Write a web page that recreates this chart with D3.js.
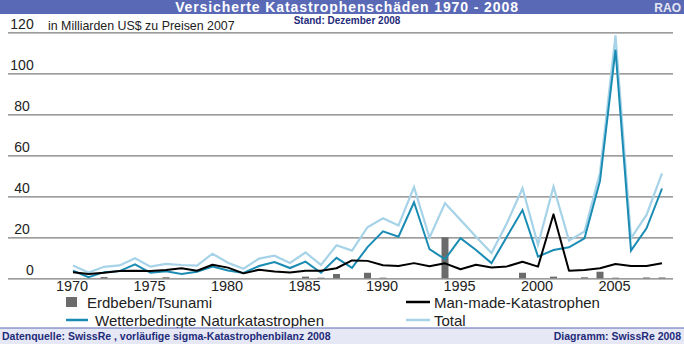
<!DOCTYPE html>
<html>
<head>
<meta charset="utf-8">
<script src="https://cdn.jsdelivr.net/npm/d3@7"></script>
<style>
  html, body { margin: 0; padding: 0; background: #fff; }
  svg { display: block; font-family: "Liberation Sans", Arial, Helvetica, sans-serif; }
</style>
</head>
<body>
<svg id="chart" width="684" height="344"></svg>
<script>
// Versicherte Katastrophenschäden, Mrd. US$ (Preise 2007)
const years = d3.range(1970, 2009);

const total = [
  6.2, 2.8, 5.6, 6.3, 9.8, 5.7, 7.0, 6.5, 6.2, 12.0,
  7.6, 4.7, 9.6, 11.0, 7.5, 12.6, 6.5, 16.1, 13.5, 24.9,
  29.3, 25.8, 44.5, 19.8, 36.6, 28.5, 20.3, 12.3, 27.0, 43.9,
  16.3, 44.7, 18.4, 22.8, 51.5, 118.5, 19.5, 30.9, 51.2
];

const weather = [
  3.7, 0.5, 3.0, 3.5, 6.8, 2.7, 3.4, 2.1, 3.2, 5.7,
  3.8, 2.6, 6.0, 7.9, 5.0, 8.1, 2.7, 10.0, 5.1, 15.2,
  22.9, 20.3, 37.1, 14.2, 9.3, 19.6, 13.8, 7.4, 20.4, 33.3,
  10.6, 13.8, 15.1, 19.5, 47.5, 111.5, 13.5, 24.4, 43.8
];

const manMade = [
  2.9, 2.1, 2.7, 3.6, 3.7, 3.6, 4.0, 4.9, 3.7, 6.6,
  5.2, 2.4, 4.2, 3.3, 2.8, 3.7, 3.7, 4.9, 8.7, 8.5,
  6.4, 6.0, 7.4, 5.9, 7.3, 4.4, 6.6, 5.3, 5.8, 8.1,
  5.7, 31.2, 3.7, 4.0, 4.9, 7.0, 6.0, 6.0, 7.3
];

const quake = [
  0, 0, 0.6, 0, 0, 0, 0.5, 0, 0, 0,
  0, 0, 0, 0, 0, 0.8, 0.3, 2.1, 0, 2.7,
  0.3, 0, 0, 0, 20.0, 0, 0, 0, 0, 2.7,
  0, 0.8, 0, 0.5, 3.2, 0.3, 0, 0.4, 0.4
];

const yTicks = [0, 20, 40, 60, 80, 100, 120];
const xTicks = [1970, 1975, 1980, 1985, 1990, 1995, 2000, 2005];

const titleText = "Versicherte Katastrophenschäden 1970 - 2008";
const subtitleText = "Stand: Dezember 2008";
const unitText = "in Milliarden US$ zu Preisen 2007";
const sourceText = "Datenquelle: SwissRe , vorläufige sigma-Katastrophenbilanz 2008";
const creditText = "Diagramm: SwissRe 2008";

const colors = {
  quake: "#6b6b6b",
  manMade: "#000000",
  weather: "#1a8cb4",
  total: "#a6d3e8",
  band: "#5a69b6",
  navy: "#1f2b7a",
  grid: "#7d7d7d"
};

const W = 684, H = 344;
const svg = d3.select("#chart");

const x = d3.scaleLinear().domain([1970, 2008]).range([73, 662]);
const y = d3.scaleLinear().domain([0, 120]).range([278.3, 32.3]);

// header band
svg.append("rect").attr("x", 0).attr("y", 0).attr("width", W).attr("height", 14)
  .attr("fill", colors.band);
svg.append("text").attr("x", 347).attr("y", 11.5).attr("text-anchor", "middle")
  .attr("fill", "#fff").attr("font-weight", "bold").attr("font-size", 14)
  .attr("letter-spacing", 0.9).text(titleText);
svg.append("text").attr("x", 681).attr("y", 11.5).attr("text-anchor", "end")
  .attr("fill", "#e3e6f2").attr("font-weight", "bold").attr("font-size", 12)
  .text("RAO");
svg.append("text").attr("x", 347).attr("y", 24).attr("text-anchor", "middle")
  .attr("fill", colors.navy).attr("font-weight", "bold").attr("font-size", 10)
  .text(subtitleText);
svg.append("text").attr("x", 48).attr("y", 29.5)
  .attr("fill", "#222").attr("font-size", 12.4).text(unitText);

// y grid and labels
const yAxis = d3.axisLeft(y).tickValues(yTicks).tickSize(-(673 - 8)).tickFormat(d3.format("d"));
const gy = svg.append("g").attr("transform", "translate(8,0)").call(yAxis);
gy.select(".domain").remove();
gy.selectAll(".tick line").attr("stroke", colors.grid).attr("stroke-width", 1.3);
gy.selectAll(".tick text")
  .attr("x", d => d === 0 ? 22 : 14).attr("dy", -3.5).attr("text-anchor", "middle")
  .attr("fill", "#222").attr("font-size", 14).attr("font-family", null)
  .attr("y", 0);

// x labels
const xAxis = d3.axisBottom(x).tickValues(xTicks).tickSize(0).tickFormat(d3.format("d"));
const gx = svg.append("g").attr("transform", "translate(0,278.3)").call(xAxis);
gx.select(".domain").remove();
gx.selectAll(".tick text").attr("y", 0).attr("dy", 12.5).attr("dx", -1.5)
  .attr("fill", "#222").attr("font-size", 14.5).attr("font-family", null);

// earthquake bars
const barW = 7;
svg.append("g").selectAll("rect")
  .data(years.map((yr, i) => ({ yr, v: quake[i] })).filter(d => d.v > 0))
  .join("rect")
  .attr("x", d => x(d.yr) - barW / 2)
  .attr("y", d => y(d.v))
  .attr("width", barW)
  .attr("height", d => y(0) - y(d.v))
  .attr("fill", colors.quake);

const line = vals => d3.line()
  .x((d, i) => x(years[i]))
  .y(d => y(d))(vals);

svg.append("path").attr("d", line(total)).attr("fill", "none")
  .attr("stroke", colors.total).attr("stroke-width", 2.2).attr("stroke-linejoin", "miter");
svg.append("path").attr("d", line(weather)).attr("fill", "none")
  .attr("stroke", colors.weather).attr("stroke-width", 2).attr("stroke-linejoin", "miter");
svg.append("path").attr("d", line(manMade)).attr("fill", "none")
  .attr("stroke", colors.manMade).attr("stroke-width", 2).attr("stroke-linejoin", "round");

// legend
const legend = svg.append("g").attr("font-size", 15).attr("fill", "#222");
legend.append("rect").attr("x", 66).attr("y", 297).attr("width", 11).attr("height", 10)
  .attr("fill", colors.quake);
legend.append("text").attr("x", 87).attr("y", 307.5).text("Erdbeben/Tsunami");
legend.append("line").attr("x1", 406).attr("x2", 430).attr("y1", 302).attr("y2", 302)
  .attr("stroke", colors.manMade).attr("stroke-width", 2.5);
legend.append("text").attr("x", 434).attr("y", 307.5).text("Man-made-Katastrophen");
legend.append("line").attr("x1", 66).attr("x2", 88).attr("y1", 320).attr("y2", 320)
  .attr("stroke", colors.weather).attr("stroke-width", 2.5);
legend.append("text").attr("x", 95).attr("y", 325.5).text("Wetterbedingte Naturkatastrophen");
legend.append("line").attr("x1", 406).attr("x2", 430).attr("y1", 320).attr("y2", 320)
  .attr("stroke", colors.total).attr("stroke-width", 2.5);
legend.append("text").attr("x", 434).attr("y", 325.5).text("Total");

// footer band
svg.append("rect").attr("x", 0).attr("y", 328).attr("width", W).attr("height", H - 328)
  .attr("fill", "#e6e8f5");
svg.append("line").attr("x1", 0).attr("x2", W).attr("y1", 328).attr("y2", 328)
  .attr("stroke", colors.band).attr("stroke-width", 1);
svg.append("text").attr("x", 2).attr("y", 340).attr("fill", colors.navy)
  .attr("font-weight", "bold").attr("font-size", 10.5).text(sourceText);
svg.append("text").attr("x", 681).attr("y", 340).attr("text-anchor", "end").attr("fill", colors.navy)
  .attr("font-weight", "bold").attr("font-size", 10.5).text(creditText);
</script>
</body>
</html>
